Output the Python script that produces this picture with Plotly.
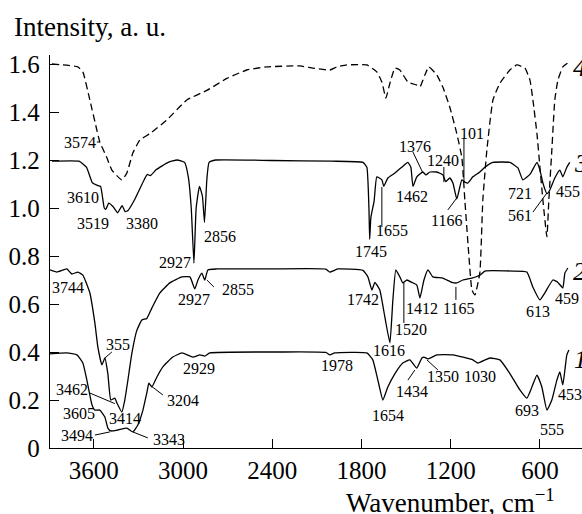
import plotly.graph_objects as go

# ---------------- data (wavenumber, cm-1 / intensity, a.u.) ----------------
wn4 = [3882, 3708, 3674, 3627, 3580, 3560, 3513, 3479, 3412, 3378, 3338, 3291, 3223, 3109,
       2975, 2840, 2705, 2571, 2436, 2214, 2127, 2013, 1966, 1898, 1764, 1697, 1663, 1636,
       1609, 1575, 1542, 1488, 1428, 1407, 1374, 1347, 1293, 1253, 1206, 1159, 1125, 1105,
       1080, 1057, 1037, 1004, 984, 957, 916, 869, 802, 755, 701, 667, 647, 620, 600, 580,
       553, 540, 520, 500, 479, 446, 412]
int4 = [1.600, 1.588, 1.567, 1.450, 1.325, 1.275, 1.210, 1.158, 1.117, 1.146, 1.229, 1.283,
        1.310, 1.367, 1.450, 1.490, 1.540, 1.575, 1.588, 1.592, 1.583, 1.575, 1.588, 1.596,
        1.596, 1.567, 1.525, 1.458, 1.520, 1.583, 1.575, 1.525, 1.512, 1.504, 1.554, 1.588,
        1.554, 1.504, 1.420, 1.310, 1.210, 1.033, 0.820, 0.658, 0.638, 0.730, 1.033, 1.240,
        1.450, 1.520, 1.575, 1.596, 1.583, 1.533, 1.450, 1.310, 1.170, 1.033, 0.880, 1.033,
        1.240, 1.450, 1.533, 1.588, 1.604]

wn3 = [3882, 3700, 3650, 3610, 3580, 3555, 3530, 3519, 3500, 3470, 3440, 3410, 3390, 3370,
       3330, 3260, 3240, 3220, 3180, 3100, 3040, 2990, 2965, 2945, 2927, 2912, 2890, 2870,
       2856, 2840, 2825, 2780, 2400, 2000, 1790, 1764, 1750, 1745, 1737, 1715, 1697, 1663,
       1650, 1623, 1575, 1529, 1488, 1468, 1454, 1428, 1387, 1367, 1340, 1293, 1253, 1233,
       1206, 1185, 1159, 1125, 1105, 1085, 1051, 1004, 970, 916, 802, 748, 715, 667, 620,
       600, 580, 553, 533, 500, 466, 446, 419, 399]
int3 = [1.195, 1.195, 1.170, 1.105, 1.095, 1.090, 1.000, 0.995, 1.020, 1.005, 0.980, 1.010,
        0.985, 0.990, 1.030, 1.120, 1.140, 1.135, 1.160, 1.190, 1.200, 1.190, 1.130, 1.000,
        0.770, 1.000, 1.090, 1.050, 0.940, 1.120, 1.190, 1.200, 1.198, 1.195, 1.190, 1.170,
        1.000, 0.870, 0.960, 1.030, 1.130, 1.117, 1.090, 1.125, 1.146, 1.170, 1.190, 1.170,
        1.090, 1.130, 1.150, 1.138, 1.150, 1.150, 1.138, 1.110, 1.125, 1.104, 1.037, 1.117,
        1.108, 1.104, 1.130, 1.150, 1.170, 1.190, 1.190, 1.167, 1.117, 1.140, 1.190, 1.158,
        1.104, 1.060, 1.075, 1.125, 1.158, 1.130, 1.170, 1.190]

wn2 = [3895, 3849, 3782, 3748, 3708, 3674, 3627, 3593, 3573, 3546, 3526, 3506, 3486, 3459,
       3445, 3412, 3392, 3371, 3344, 3311, 3277, 3244, 3210, 3156, 3089, 3008, 2954, 2921,
       2900, 2874, 2854, 2833, 2773, 2400, 2040, 2013, 1960, 1790, 1757, 1730, 1710, 1677,
       1643, 1609, 1589, 1569, 1542, 1522, 1495, 1461, 1428, 1407, 1380, 1353, 1320, 1253,
       1192, 1159, 1118, 1057, 1004, 970, 782, 688, 647, 600, 567, 513, 479, 446, 432, 412]
int2 = [0.742, 0.733, 0.746, 0.725, 0.733, 0.720, 0.646, 0.520, 0.420, 0.346, 0.375, 0.310,
        0.200, 0.208, 0.188, 0.150, 0.200, 0.283, 0.396, 0.490, 0.533, 0.540, 0.583, 0.646,
        0.688, 0.713, 0.713, 0.663, 0.700, 0.729, 0.700, 0.742, 0.746, 0.746, 0.745, 0.733,
        0.746, 0.740, 0.713, 0.658, 0.690, 0.658, 0.546, 0.438, 0.617, 0.742, 0.713, 0.688,
        0.700, 0.690, 0.679, 0.625, 0.700, 0.742, 0.713, 0.708, 0.690, 0.688, 0.700, 0.708,
        0.720, 0.737, 0.737, 0.733, 0.670, 0.617, 0.646, 0.700, 0.690, 0.667, 0.729, 0.750]

wn1 = [3895, 3782, 3714, 3674, 3647, 3613, 3593, 3560, 3526, 3506, 3486, 3439, 3378, 3338,
       3304, 3270, 3244, 3230, 3210, 3176, 3136, 3069, 3008, 2934, 2887, 2854, 2820, 2349,
       2040, 2013, 1980, 1764, 1724, 1690, 1656, 1623, 1575, 1522, 1475, 1428, 1394, 1380,
       1353, 1293, 1185, 1051, 1017, 937, 869, 802, 735, 688, 654, 620, 587, 553, 520, 486,
       466, 446, 419, 405]
int1 = [0.392, 0.396, 0.388, 0.354, 0.283, 0.180, 0.158, 0.158, 0.129, 0.083, 0.071, 0.075,
        0.083, 0.067, 0.096, 0.158, 0.229, 0.270, 0.254, 0.296, 0.338, 0.379, 0.396, 0.379,
        0.388, 0.383, 0.396, 0.400, 0.398, 0.388, 0.396, 0.396, 0.367, 0.283, 0.200, 0.254,
        0.310, 0.354, 0.367, 0.333, 0.375, 0.379, 0.371, 0.388, 0.388, 0.367, 0.354, 0.375,
        0.367, 0.310, 0.242, 0.208, 0.254, 0.304, 0.254, 0.158, 0.200, 0.283, 0.317, 0.263,
        0.388, 0.408]

# peak labels: (text, wavenumber, intensity)
peak_labels = [
    ("3574", 3694, 1.271),
    ("3610", 3674, 1.042), ("3519", 3607, 0.9375), ("3380", 3277, 0.9375),
    ("2856", 2753, 0.883), ("2927", 3055, 0.771), ("1745", 1737, 0.817),
    ("1655", 1596, 0.908), ("1462", 1461, 1.046), ("1376", 1441, 1.258),
    ("1240", 1253, 1.200), ("101", 1058, 1.3125), ("1166", 1226, 0.950),
    ("721", 735, 1.0625), ("561", 735, 0.967), ("455", 412, 1.067),
    ("3744", 3775, 0.667), ("2927", 2927, 0.617), ("2855", 2631, 0.6625),
    ("355", 3439, 0.433), ("3462", 3748, 0.242), ("3414", 3392, 0.121),
    ("1742", 1791, 0.617), ("1616", 1616, 0.408), ("1520", 1468, 0.492),
    ("1412", 1394, 0.583), ("1165", 1145, 0.583), ("613", 614, 0.567), ("459", 419, 0.625),
    ("2929", 2894, 0.333), ("3204", 3001, 0.200), ("3605", 3701, 0.142),
    ("3494", 3714, 0.054), ("3343", 3096, 0.0375), ("1978", 1966, 0.342),
    ("1654", 1623, 0.1375), ("1434", 1461, 0.2375), ("1350", 1253, 0.296),
    ("1030", 1004, 0.300), ("693", 688, 0.158), ("555", 520, 0.079), ("453", 398, 0.221),
]

# leader lines: (wn0, i0, wn1, i1)
leaders = [
    (3580, 1.275, 3560, 1.275),
    (1663, 1.0875, 1663, 0.921), (1454, 1.233, 1387, 1.146), (1246, 1.171, 1246, 1.108),
    (1111, 1.292, 1111, 1.104), (1219, 0.992, 1159, 1.042), (647, 0.983, 553, 1.0625),
    (2840, 0.700, 2793, 0.671), (3526, 0.375, 3479, 0.400), (3627, 0.229, 3459, 0.185),
    (1515, 0.6875, 1515, 0.521), (1165, 0.671, 1165, 0.617),
    (3223, 0.2625, 3136, 0.221), (3593, 0.054, 3492, 0.067), (3338, 0.067, 3237, 0.042),
    (1488, 0.283, 1441, 0.325), (1360, 0.367, 1286, 0.325),
]

# curve numbers: (text, wn, intensity)
curve_numbers = [("4", 390, 1.5875), ("3", 384, 1.1875), ("2", 388, 0.7375), ("1", 386, 0.367)]

x_ticks = [3600, 3000, 2400, 1800, 1200, 600]
y_ticks = [0, 0.2, 0.4, 0.6, 0.8, 1.0, 1.2, 1.4, 1.6]
y_ticktext = ["0", "0.2", "0.4", "0.6", "0.8", "1.0", "1.2", "1.4", "1.6"]

FONT = "Liberation Serif"

fig = go.Figure()
for wn, it, dash in [(wn1, int1, "solid"), (wn2, int2, "solid"), (wn3, int3, "solid"),
                     (wn4, int4, "7px,4px")]:
    fig.add_trace(go.Scatter(x=wn, y=it, mode="lines",
                             line=dict(color="black", width=1.3, dash=dash,
                                       shape="spline", smoothing=0.4),
                             showlegend=False, hoverinfo="skip"))

for t, x, y in peak_labels:
    fig.add_annotation(x=x, y=y, xref="x", yref="y", text=t, showarrow=False,
                       font=dict(family=FONT, size=16, color="black"))

for x0, y0, x1, y1 in leaders:
    fig.add_shape(type="line", x0=x0, y0=y0, x1=x1, y1=y1, xref="x", yref="y",
                  line=dict(color="black", width=1))

for t, x, y in curve_numbers:
    fig.add_annotation(x=x, y=y, xref="x", yref="y", text="<i>" + t + "</i>",
                       showarrow=False, xanchor="left",
                       font=dict(family=FONT, size=26, color="black"))

fig.add_annotation(x=-0.0714, y=1.071, xref="paper", yref="paper",
                   text="Intensity, a. u.", showarrow=False, xanchor="left", yanchor="middle",
                   font=dict(family=FONT, size=27, color="black"))
fig.add_annotation(x=0.953, y=-0.135, xref="paper", yref="paper",
                   text="Wavenumber, cm<sup>\u22121</sup>", showarrow=False,
                   xanchor="right", yanchor="middle",
                   font=dict(family=FONT, size=27, color="black"))

fig.update_xaxes(range=[3895, 317], tickvals=x_ticks, ticks="inside", ticklen=9,
                 tickwidth=1.3, tickcolor="black", showline=True, linecolor="black",
                 linewidth=1.3, showgrid=False, zeroline=False,
                 tickfont=dict(family=FONT, size=25, color="black"))
fig.update_yaxes(range=[0, 1.6375], tickvals=y_ticks, ticktext=y_ticktext, ticks="inside",
                 ticklen=9, tickwidth=1.3, tickcolor="black", showline=True,
                 linecolor="black", linewidth=1.3, showgrid=False, zeroline=False,
                 ticklabelstandoff=4,
                 tickfont=dict(family=FONT, size=25, color="black"))

fig.update_layout(width=582, height=514, margin=dict(l=50, r=0, t=55, b=66),
                  plot_bgcolor="white", paper_bgcolor="white")

fig.write_html("out.html", config={"displayModeBar": False},
               post_script="document.documentElement.style.margin='0';"
                           "document.body.style.margin='0';"
                           "document.body.style.overflow='hidden';")
